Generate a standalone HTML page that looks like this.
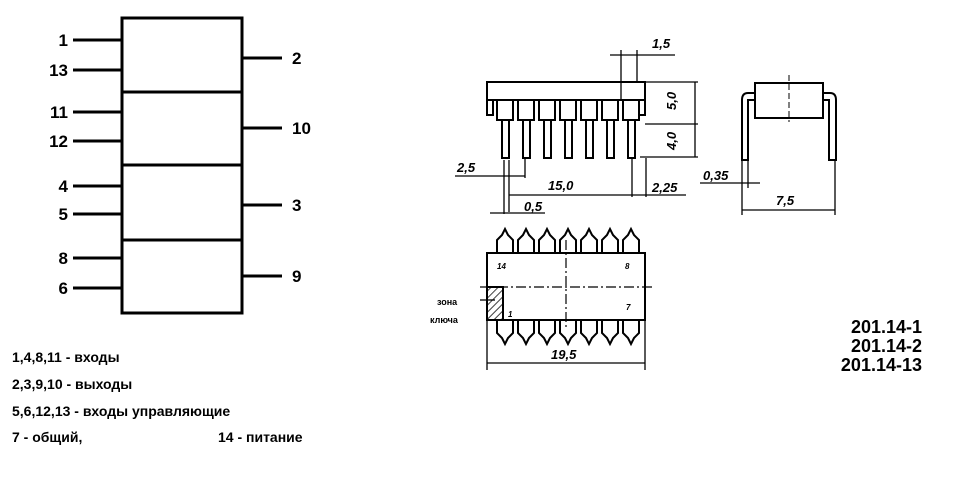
<!DOCTYPE html><html><head><meta charset="utf-8"><style>body{margin:0;background:#fff}svg{display:block}text{font-family:"Liberation Sans",sans-serif;font-weight:bold}</style></head><body>
<svg width="958" height="478" viewBox="0 0 958 478" xmlns="http://www.w3.org/2000/svg">
<defs><pattern id="h" width="5" height="5" patternUnits="userSpaceOnUse" patternTransform="rotate(45)"><line x1="0" y1="0" x2="0" y2="5" stroke="#000" stroke-width="1.5"/></pattern></defs>
<g stroke="#000" stroke-width="3" fill="none">
<rect x="122" y="18" width="120" height="295"/>
<line x1="122" y1="92" x2="242" y2="92"/><line x1="122" y1="165" x2="242" y2="165"/><line x1="122" y1="240" x2="242" y2="240"/>
<line x1="73" y1="40" x2="122" y2="40"/><line x1="73" y1="70" x2="122" y2="70"/>
<line x1="73" y1="112" x2="122" y2="112"/><line x1="73" y1="141" x2="122" y2="141"/>
<line x1="73" y1="186" x2="122" y2="186"/><line x1="73" y1="214" x2="122" y2="214"/>
<line x1="73" y1="258" x2="122" y2="258"/><line x1="73" y1="288" x2="122" y2="288"/>
<line x1="242" y1="58" x2="282" y2="58"/><line x1="242" y1="128" x2="282" y2="128"/>
<line x1="242" y1="205" x2="282" y2="205"/><line x1="242" y1="276" x2="282" y2="276"/>
</g>
<g font-size="17" text-anchor="end">
<text x="68" y="46">1</text><text x="68" y="76">13</text><text x="68" y="118">11</text><text x="68" y="147">12</text>
<text x="68" y="192">4</text><text x="68" y="220">5</text><text x="68" y="264">8</text><text x="68" y="294">6</text>
</g>
<g font-size="17"><text x="292" y="64">2</text><text x="292" y="134">10</text><text x="292" y="211">3</text><text x="292" y="282">9</text></g>
<g font-size="14"><text x="12" y="362">1,4,8,11 - входы</text><text x="12" y="389">2,3,9,10 - выходы</text><text x="12" y="416">5,6,12,13 - входы управляющие</text><text x="12" y="442">7 - общий,</text><text x="218" y="442">14 - питание</text></g>
<g font-size="18" text-anchor="end"><text x="922" y="333">201.14-1</text><text x="922" y="352">201.14-2</text><text x="922" y="371">201.14-13</text></g>
<!-- side top view -->
<g stroke="#000" stroke-width="2" fill="none">
<rect x="487" y="82" width="158" height="18"/>
<rect x="487" y="100" width="6" height="15"/><rect x="639" y="100" width="6" height="15"/>
<g id="p"><rect x="497" y="100" width="16" height="20"/><rect x="502" y="120" width="7" height="38"/></g>
<use href="#p" x="21"/><use href="#p" x="42"/><use href="#p" x="63"/><use href="#p" x="84"/><use href="#p" x="105"/><use href="#p" x="126"/>
<g stroke-width="1.3">
<line x1="621" y1="50" x2="621" y2="100"/><line x1="637" y1="50" x2="637" y2="82"/><line x1="610" y1="55" x2="675" y2="55"/>
<line x1="645" y1="82" x2="698" y2="82"/><line x1="645" y1="124" x2="698" y2="124"/><line x1="640" y1="157" x2="698" y2="157"/><line x1="695" y1="82" x2="695" y2="157"/>
<line x1="455" y1="176" x2="525" y2="176"/><line x1="525" y1="158" x2="525" y2="178"/>
<line x1="509" y1="160" x2="509" y2="212"/><line x1="504" y1="160" x2="504" y2="214"/><line x1="632" y1="158" x2="632" y2="197"/><line x1="646" y1="158" x2="646" y2="197"/>
<line x1="509" y1="195" x2="686" y2="195"/><line x1="490" y1="213" x2="545" y2="213"/>
<line x1="742" y1="160" x2="742" y2="215"/><line x1="748" y1="160" x2="748" y2="188"/><line x1="700" y1="183" x2="760" y2="183"/>
<line x1="835" y1="160" x2="835" y2="215"/><line x1="742" y1="210" x2="835" y2="210"/>
<line x1="487" y1="320" x2="487" y2="370"/><line x1="645" y1="320" x2="645" y2="370"/><line x1="487" y1="363" x2="645" y2="363"/>
<line x1="480" y1="300" x2="495" y2="300"/>
</g>
<!-- end view -->
<rect x="755" y="83" width="68" height="35"/>
<path d="M755 93 H748 Q742 93 742 100 V160 H748 V100 H755"/>
<path d="M823 93 H830 Q836 93 836 100 V160 H829 V100 H823"/>
<line x1="789" y1="75" x2="789" y2="122" stroke-width="1" stroke-dasharray="6 3"/>
<!-- bottom view -->
<rect x="487" y="253" width="158" height="67"/>
<rect x="487" y="287" width="16" height="33" fill="url(#h)"/>
<line x1="480" y1="287" x2="652" y2="287" stroke-width="1.2" stroke-dasharray="10 3 2 3"/>
<line x1="566" y1="240" x2="566" y2="330" stroke-width="1.2" stroke-dasharray="10 3 2 3"/>
<g id="q"><path d="M497 253 V240 L502 235 L505 229 L508 235 L513 240 V253"/><path d="M497 320 V333 L502 338 L505 344 L508 338 L513 333 V320"/></g>
<use href="#q" x="21"/><use href="#q" x="42"/><use href="#q" x="63"/><use href="#q" x="84"/><use href="#q" x="105"/><use href="#q" x="126"/>
</g>
<g font-style="italic" font-size="13">
<text x="652" y="48">1,5</text><text x="676" y="110" transform="rotate(-90 676 110)">5,0</text><text x="676" y="150" transform="rotate(-90 676 150)">4,0</text>
<text x="457" y="172">2,5</text><text x="548" y="190">15,0</text><text x="652" y="192">2,25</text><text x="524" y="211">0,5</text>
<text x="703" y="180">0,35</text><text x="776" y="205">7,5</text><text x="551" y="359">19,5</text>
</g>
<g font-size="8" font-style="italic"><text x="497" y="269">14</text><text x="625" y="269">8</text><text x="508" y="317">1</text><text x="626" y="310">7</text></g>
<g font-size="9"><text x="437" y="305">зона</text><text x="430" y="323">ключа</text></g>
</svg></body></html>
